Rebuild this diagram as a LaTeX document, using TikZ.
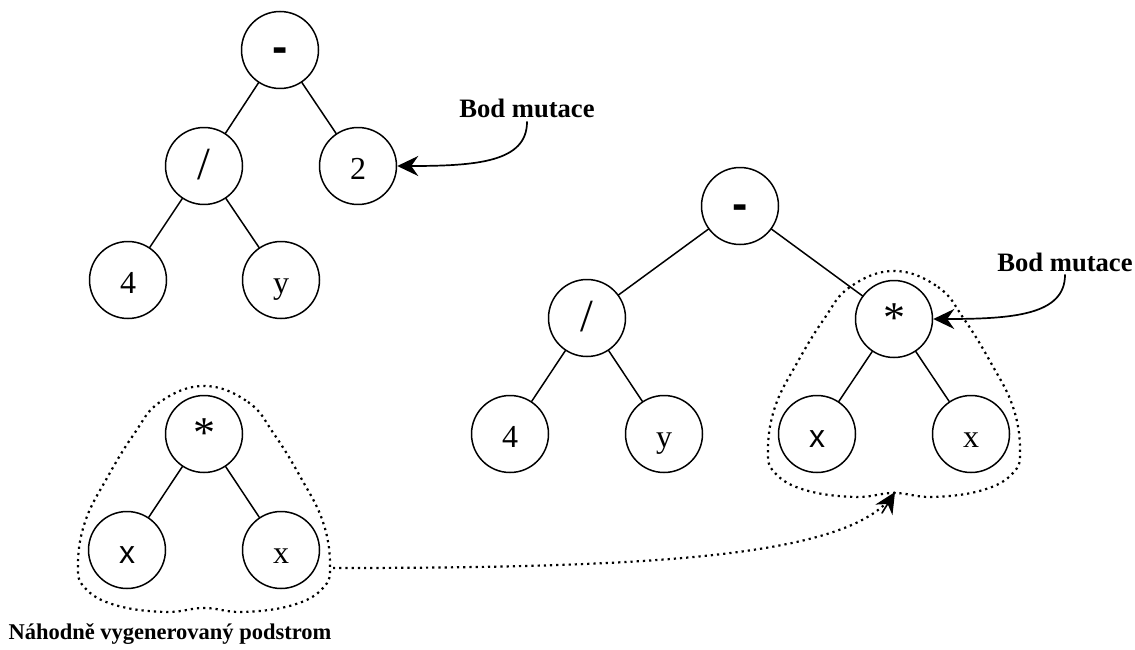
\documentclass[tikz,border=0pt]{standalone}
\usepackage{fontspec}
\setmainfont{Liberation Serif}
\newfontfamily\arialfont{Liberation Sans}
\usetikzlibrary{arrows.meta}

\begin{document}
\begin{tikzpicture}[line cap=round,line join=round,x=1pt,y=-1pt,
    vrchol/.style={draw,circle,line width=1.5pt,minimum size=77pt,inner sep=0pt,
      text height=26pt,text depth=0pt,font=\fontsize{32}{38}\selectfont},
    hrana/.style={line width=1.5pt},
    popis/.style={anchor=base,font=\fontsize{26.6}{32}\selectfont\bfseries},
    hrot/.style={-{Stealth[length=21pt,width=20pt,inset=7pt]}},
    ukazatel/.style={line width=1.7pt,hrot},
    obrys/.style={line width=2.2pt,line cap=butt,dash pattern=on 2.2pt off 4pt}]
\useasboundingbox (0,0) rectangle (1135,650);
% puvodni strom
\node[vrchol] (a0) at (280,50) {\arialfont\bfseries\fontsize{46}{46}\selectfont -};
\node[vrchol] (a1) at (204,166) {\fontsize{46}{46}\selectfont /};
\node[vrchol] (a2) at (358,166) {2};
\node[vrchol] (a3) at (128,280) {4};
\node[vrchol] (a4) at (281,280) {y};
% strom po mutaci
\node[vrchol] (b0) at (740,206) {\arialfont\bfseries\fontsize{46}{46}\selectfont -};
\node[vrchol] (b1) at (587,318) {\fontsize{46}{46}\selectfont /};
\node[vrchol] (b2) at (894,319) {\fontsize{44}{44}\selectfont *};
\node[vrchol] (b3) at (510,434) {4};
\node[vrchol] (b4) at (664,434) {y};
\node[vrchol] (b5) at (817,434) {\arialfont x};
\node[vrchol] (b6) at (971,434) {x};
% nahodny podstrom
\node[vrchol] (c0) at (204,434) {\fontsize{44}{44}\selectfont *};
\node[vrchol] (c1) at (127,550) {\arialfont x};
\node[vrchol] (c2) at (281,550) {x};
\foreach \u/\v in {a0/a1,a0/a2,a1/a3,a1/a4,b0/b1,b0/b2,b1/b3,b1/b4,b2/b5,b2/b6,c0/c1,c0/c2}
  \draw[hrana] (\u) -- (\v);
% obrysy podstromu
\foreach \s in {b2,c0}
  \draw[obrys,shift={(\s.center)}] plot[smooth cycle,tension=0.7] coordinates {
    (0,-48) (44,-32) (70,0) (97,44) (119,88) (126,131) (119,154) (89,171) (39,178)
    (0,174) (-39,178) (-89,171) (-119,154) (-126,131) (-119,88) (-97,44) (-70,0) (-44,-32)};
% popisky
\node[popis] (m1) at (527,118) {Bod mutace};
\node[popis] (m2) at (1065,271) {Bod mutace};
\node[popis,font=\fontsize{22.5}{27}\selectfont\bfseries] (m3) at (170,639) {Náhodně vygenerovaný podstrom};
\draw[ukazatel] (m1.south) .. controls +(0,40) and +(80,0) .. (a2.east);
\draw[ukazatel] (m2.south) .. controls +(0,40) and +(80,0) .. (b2.east);
% prenos podstromu
\coordinate (z) at (333,568);
\coordinate (k) at (895,492);
\draw[obrys] (z) .. controls +(320,0) and +(-40,65) .. (k);
\draw[line width=1.6pt,hrot] ([shift={(-13,21)}]k) -- (k);
\end{tikzpicture}
\end{document}
